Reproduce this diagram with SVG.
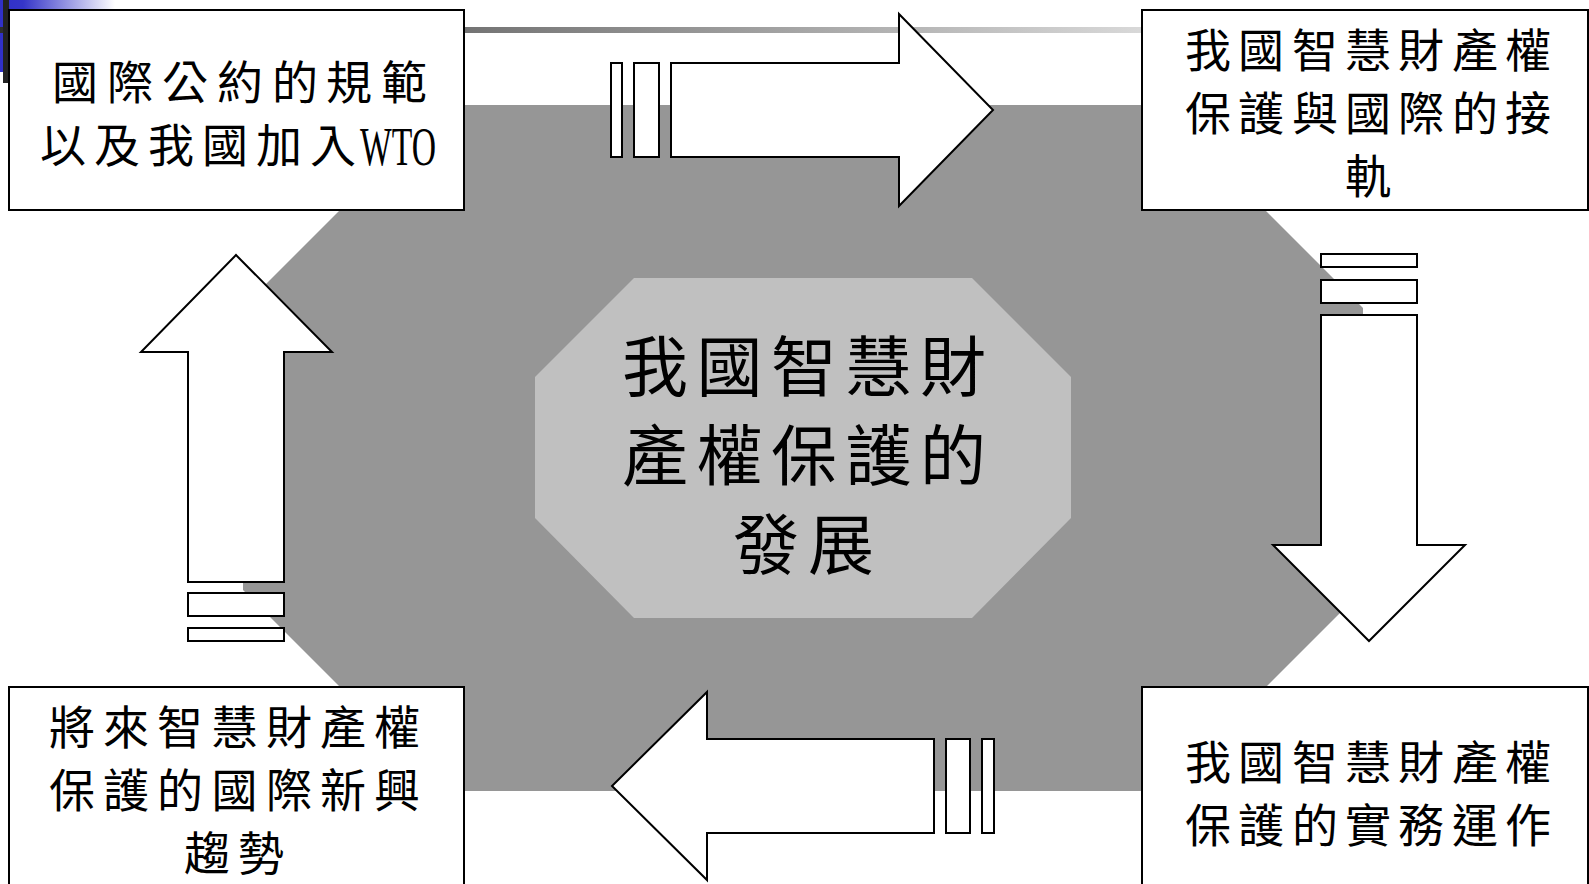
<svg xmlns="http://www.w3.org/2000/svg" width="1589" height="884" viewBox="0 0 1589 884">
<defs>
<linearGradient id="lineGrad" gradientUnits="userSpaceOnUse" x1="0" y1="0" x2="1400" y2="0">
<stop offset="0" stop-color="#2e2e2e"/>
<stop offset="1" stop-color="#ffffff"/>
</linearGradient>
<linearGradient id="blueGrad" x1="0" y1="0" x2="1" y2="0">
<stop offset="0" stop-color="#3030c8"/>
<stop offset="0.2" stop-color="#3535c8"/>
<stop offset="1" stop-color="#ffffff"/>
</linearGradient>
<style>
.box{fill:#ffffff;stroke:#000000;stroke-width:2}
.arrow{fill:#ffffff;stroke:#000000;stroke-width:2;stroke-linejoin:miter}
.t{font-family:"Noto Sans CJK TC","Noto Sans CJK SC",sans-serif;font-size:46px;fill:#000000;text-anchor:middle}
.tc{font-family:"Noto Sans CJK TC","Noto Sans CJK SC",sans-serif;font-size:66px;fill:#000000;text-anchor:middle}
.lat{font-family:"Liberation Serif",serif;font-size:55px;fill:#000000}
</style>
</defs>
<rect x="0" y="0" width="1589" height="884" fill="#ffffff"/>
<!-- decoration -->
<rect x="0" y="0" width="115" height="72" fill="url(#blueGrad)"/>
<rect x="0" y="27" width="1589" height="6" fill="url(#lineGrad)"/>
<rect x="3" y="0" width="6" height="83" fill="#222222"/>
<!-- background octagons -->
<polygon points="445,105 1160,105 1363,308 1363,590 1162,791 444,791 243,590 243,307" fill="#969696"/>
<g id="center">
<polygon points="634,278 972,278 1071,377 1071,518 972,618 634,618 535,518 535,377" fill="#c0c0c0"/>
<text class="tc" y="391" x="655 729.5 804 878.5 953">我國智慧財</text>
<text class="tc" y="480" x="655 729.5 804 878.5 953">產權保護的</text>
<text class="tc" y="569" x="766 841">發展</text>
</g>
<g id="connectors">
<g id="arrow-top">
<rect class="arrow" x="611" y="63" width="11" height="94"/>
<rect class="arrow" x="634" y="63" width="25" height="94"/>
<polygon class="arrow" points="671,63 899,63 899,14 993,110 899,206 899,157 671,157"/>
</g>
<g id="arrow-right">
<rect class="arrow" x="1321" y="254" width="96" height="13"/>
<rect class="arrow" x="1321" y="280" width="96" height="23"/>
<polygon class="arrow" points="1321,315 1417,315 1417,545 1465,545 1369,641 1273,545 1321,545"/>
</g>
<g id="arrow-bottom">
<polygon class="arrow" points="934,739 707,739 707,692 612,786 707,880 707,833 934,833"/>
<rect class="arrow" x="946" y="739" width="24" height="94"/>
<rect class="arrow" x="982" y="739" width="12" height="94"/>
</g>
<g id="arrow-left">
<polygon class="arrow" points="188,582 188,352 141,352 236,255 332,352 284,352 284,582"/>
<rect class="arrow" x="188" y="593" width="96" height="23"/>
<rect class="arrow" x="188" y="628" width="96" height="13"/>
</g>
</g>
<g id="node-tl">
<rect class="box" x="9" y="10" width="455" height="200"/>
<text class="t" y="99" x="75 130 185 240 295 349 404">國際公約的規範</text>
<text class="t" y="162" x="63 117 171 225 279 333">以及我國加入</text>
<text class="lat" x="360" y="165" textLength="76" lengthAdjust="spacingAndGlyphs">WTO</text>
</g>
<g id="node-tr">
<rect class="box" x="1142" y="10" width="446" height="200"/>
<text class="t" y="67" x="1208 1261 1315 1368 1421 1475 1528">我國智慧財產權</text>
<text class="t" y="130" x="1208 1261 1315 1368 1421 1475 1528">保護與國際的接</text>
<text class="t" y="193" x="1368">軌</text>
</g>
<g id="node-br">
<rect class="box" x="1142" y="687" width="446" height="210"/>
<text class="t" y="779" x="1208 1261 1315 1368 1421 1475 1528">我國智慧財產權</text>
<text class="t" y="842" x="1208 1261 1315 1368 1421 1475 1528">保護的實務運作</text>
</g>
<g id="node-bl">
<rect class="box" x="9" y="687" width="455" height="210"/>
<text class="t" y="744" x="72 126 180 234.5 289 343 397">將來智慧財產權</text>
<text class="t" y="807" x="72 126 180 234.5 289 343 397">保護的國際新興</text>
<text class="t" y="870" x="207 261">趨勢</text>
</g>
</svg>
